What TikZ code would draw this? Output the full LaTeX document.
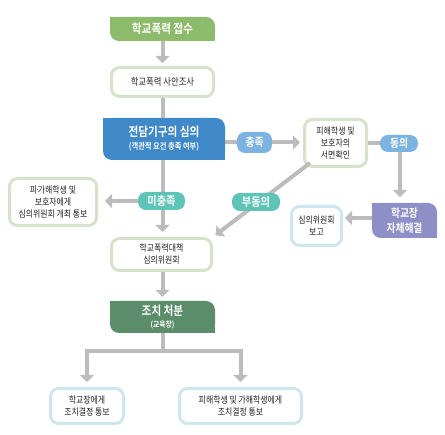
\documentclass[tikz,border=0pt]{standalone}
\usepackage{fontspec}
\setmainfont{Noto Sans CJK KR}[FakeStretch=0.85, BoldFont={* Bold}]
\usetikzlibrary{arrows.meta}
\definecolor{agrey}{HTML}{BCBCBF}
\definecolor{lgreen}{HTML}{8DBB6C}
\definecolor{bgreen}{HTML}{D6E2C9}
\definecolor{lblue}{HTML}{3F89C9}
\definecolor{pblue}{HTML}{7DB3E0}
\definecolor{pteal}{HTML}{5EC4B7}
\definecolor{lpurple}{HTML}{8E8FC6}
\definecolor{dgreen}{HTML}{5B8D6B}
\definecolor{bblue}{HTML}{CDE6EF}
\definecolor{txt}{HTML}{222222}
\tikzset{
  leaf/.style={inner sep=0pt, text=white, align=center,
    path picture={
      \fill[#1, rounded corners=9pt] (path picture bounding box.south west) rectangle (path picture bounding box.north east);
      \fill[#1] (path picture bounding box.north west) rectangle (path picture bounding box.center);
      \fill[#1] (path picture bounding box.center) rectangle (path picture bounding box.south east);
    }},
  box/.style={draw=#1, line width=3pt, rounded corners=8pt, fill=white, inner sep=0pt, align=center, text=txt,
    font=\fontsize{9.3}{12}\selectfont},
  pill/.style={fill=#1, rounded corners=8pt, inner sep=0pt, text=white, font=\bfseries\fontsize{12}{14}\selectfont},
  arr/.style={draw=agrey, line width=4pt, -{Triangle[width=14pt,length=7pt]}},
  ln/.style={draw=agrey, line width=4pt}
}
\begin{document}
\begin{tikzpicture}[x=1pt,y=-1pt]
\useasboundingbox (0,0) rectangle (445,435);
% nodes
\node[leaf=lgreen, minimum width=105pt, minimum height=24pt, font=\bfseries\fontsize{12.5}{14}\selectfont] (a) at (162.5,29) {학교폭력 접수};
\node[box=bgreen, minimum width=102pt, minimum height=29pt, font=\fontsize{9.8}{12}\selectfont] (b) at (162.5,82) {학교폭력 사안조사};
\node[leaf=lblue, minimum width=122pt, minimum height=42pt, font=\bfseries\fontsize{12.5}{14}\selectfont] (c) at (164,139) {전담기구의 심의\\[-1pt]{\fontsize{8.5}{10}\selectfont (객관적 요건 충족 여부)}};
\node[box=bgreen, minimum width=62pt, minimum height=47pt] (d) at (335.5,143) {피해학생 및\\보호자의\\서면확인};
\node[leaf=lpurple, minimum width=65pt, minimum height=35pt, font=\bfseries\fontsize{11.5}{15}\selectfont] (e) at (404.5,220.5) {학교장\\자체해결};
\node[box=bblue, minimum width=50pt, minimum height=39pt] (f) at (316.5,226) {심의위원회\\보고};
\node[box=bgreen, minimum width=87pt, minimum height=47pt] (g) at (53,202) {피\kern-0.2em·\kern-0.2em가해학생 및\\보호자에게\\심의위원회 개최 통보};
\node[box=bgreen, minimum width=100pt, minimum height=32pt] (h) at (161.5,254.5) {학교폭력대책\\심의위원회};
\node[leaf=dgreen, minimum width=105pt, minimum height=32pt, font=\bfseries\fontsize{12.5}{13}\selectfont] (i) at (162.5,317) {조치 처분\\[-1pt]{\fontsize{8}{9}\selectfont (교육장)}};
\node[box=bblue, minimum width=73pt, minimum height=35pt] (j) at (87,406) {학교장에게\\조치결정 통보};
\node[box=bblue, minimum width=122pt, minimum height=35pt] (k) at (240.5,406) {피해학생 및 가해학생에게\\조치결정 통보};
\coordinate (dd) at (310,163);
\coordinate (sp) at (162.5,351);
% connectors
\draw[arr, shorten >=3pt] (a.south) -- (b.north);
\draw[ln] (b.south) -- (b.south |- c.north);
\draw[arr, shorten >=3pt] (c.east |- 0,142.5) -- (d.west |- 0,142.5);
\draw[arr, shorten >=6pt] (d.east |- 0,143.5) -- (400,143.5) -- (400,203);
\draw[arr, shorten >=2pt] (e.west |- 0,218) -- (f.east |- 0,218);
\draw[arr, shorten >=5pt] (c.south -| b.south) -- (h.north -| b.south);
\draw[arr, shorten >=7pt] (162.5,201) -- (g.east |- 0,201);
\draw[arr, shorten >=3pt] (dd) -- (h.north east);
\draw[arr, shorten >=4pt] (h.south -| i.south) -- (i.north);
\draw[ln] (i.south) -- (sp);
\draw[arr, shorten >=5pt] (sp) -| (j.north);
\draw[arr, shorten >=5pt] (sp) -| (k.north);
% pills
\node[pill=pblue, minimum width=35pt, minimum height=21pt, font=\bfseries\fontsize{11.5}{13}\selectfont] (p1) at (254.5,142.5) {충족};
\node[pill=pblue, minimum width=38pt, minimum height=17pt, font=\bfseries\fontsize{11.5}{13}\selectfont] (p2) at (399,143.5) {동의};
\node[pill=pteal, minimum width=47pt, minimum height=18pt] (p3) at (161.5,201) {미충족};
\node[pill=pteal, minimum width=48pt, minimum height=18pt] (p4) at (256,202) {부동의};
\end{tikzpicture}
\end{document}
